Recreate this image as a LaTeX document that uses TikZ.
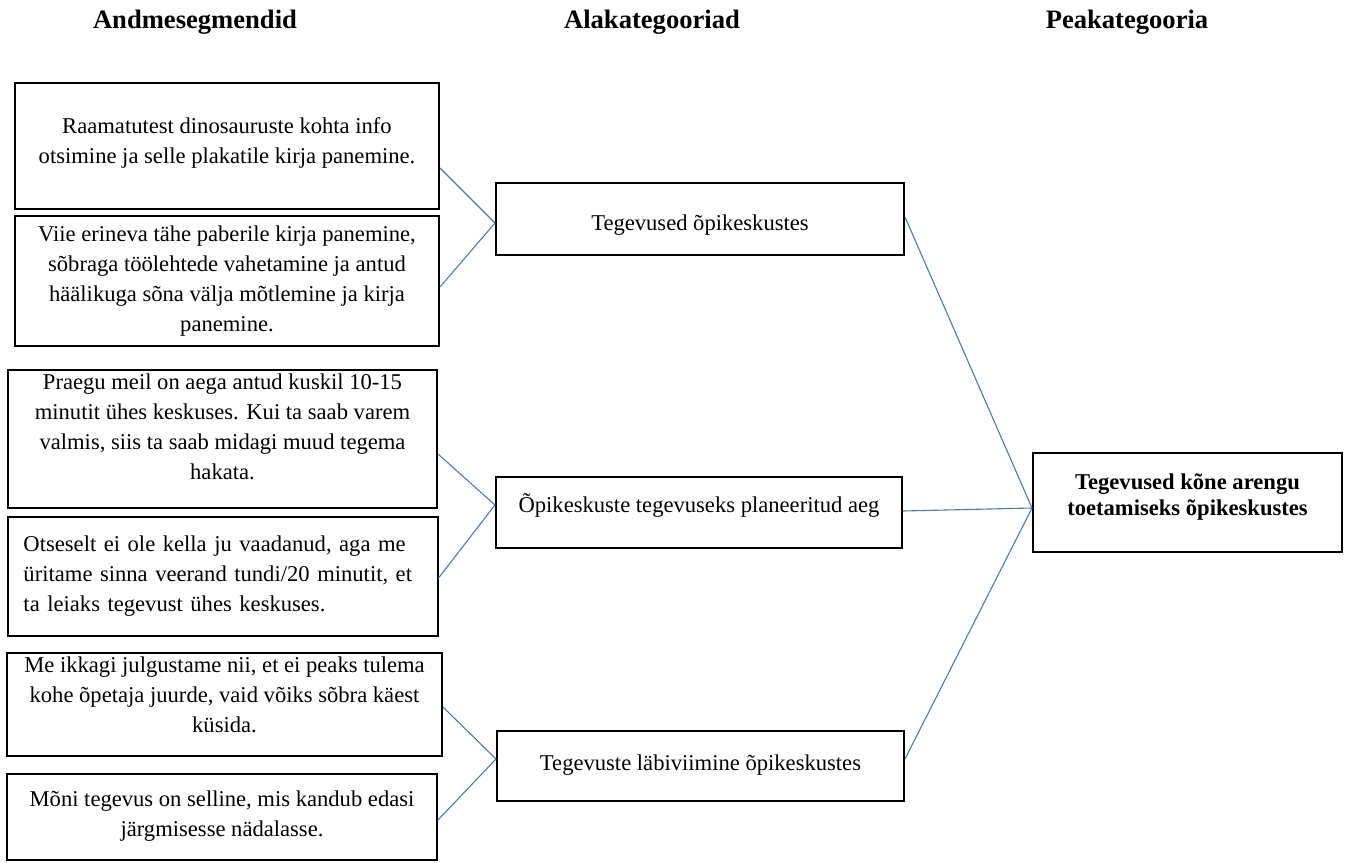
\documentclass[tikz,border=0pt]{standalone}
\usepackage{fontspec}
\setmainfont{Liberation Serif}
\definecolor{linkblue}{RGB}{74,126,167}

\begin{document}
\begin{tikzpicture}[x=.5pt,y=-.5pt,font=\fontsize{11.3}{15}\selectfont,
	seg/.style={draw,line width=1pt,align=center,inner sep=0pt},
	head/.style={font=\fontsize{13.3}{16}\selectfont\bfseries},
	link/.style={linkblue,line width=.55pt}]
	% fix page size
	\useasboundingbox (0,0) rectangle (1346,863);
	
	% draw headings
	\node[head] (hseg) at (195,22) {Andmesegmendid};
	\node[head] (hsub) at (652,22) {Alakategooriad};
	\node[head] (hmain) at (1127,22) {Peakategooria};
	
	% draw data segments
	\node[seg,minimum width=212pt,minimum height=63pt] (a1) at (227,146) {Raamatutest dinosauruste kohta info\\otsimine ja selle plakatile kirja panemine.\\[-9.5pt]};
	\node[seg,minimum width=212pt,minimum height=65pt] (a2) at (227,281) {Viie erineva tähe paberile kirja panemine,\\sõbraga töölehtede vahetamine ja antud\\häälikuga sõna välja mõtlemine ja kirja\\panemine.};
	\node[seg,minimum width=214.5pt,minimum height=69pt] (b1) at (222.5,439) {Praegu meil on aega antud kuskil 10-15\\minutit ühes keskuses. Kui ta saab varem\\valmis, siis ta saab midagi muud tegema\\hakata.\\[-2.5pt]};
	\node[seg,align=left,text width=199pt,inner xsep=8pt,minimum height=59.5pt] (b2) at (222.5,576.5) {Otseselt ei ole kella ju vaadanud, aga me\\üritame sinna veerand tundi/20 minutit, et\\ta leiaks tegevust ühes keskuses.};
	\node[seg,minimum width=217.5pt,minimum height=51.5pt] (c1) at (224.5,704.5) {Me ikkagi julgustame nii, et ei peaks tulema\\kohe õpetaja juurde, vaid võiks sõbra käest\\küsida.\\[-5.5pt]};
	\node[seg,minimum width=215pt,minimum height=43pt] (c2) at (222,816.5) {Mõni tegevus on selline, mis kandub edasi\\järgmisesse nädalasse.};
	
	% draw subcategories
	\node[seg,minimum width=204pt,minimum height=36pt,text height=14pt,text depth=2.5pt] (m1) at (700,219) {Tegevused õpikeskustes};
	\node[seg,minimum width=203pt,minimum height=35.5pt,text height=2.5pt,text depth=2.5pt] (m2) at (699,512.5) {Õpikeskuste tegevuseks planeeritud aeg};
	\node[seg,minimum width=203.5pt,minimum height=35pt,text height=7pt,text depth=2.5pt] (m3) at (700.5,766) {Tegevuste läbiviimine õpikeskustes};
	
	% draw main category
	\node[seg,font=\fontsize{11.3}{13}\selectfont\bfseries,minimum width=154.5pt,minimum height=49.5pt] (r) at (1187.5,502.5) {Tegevused kõne arengu\\toetamiseks õpikeskustes\\[-5.5pt]};
	
	% draw links
	\draw[link] ([yshift=-11pt]a1.east) -- ([yshift=-2pt]m1.west);
	\draw[link] ([yshift=-3pt]a2.east) -- ([yshift=-2pt]m1.west);
	\draw[link] ([yshift=-7.5pt]b1.east) -- ([yshift=3.75pt]m2.west);
	\draw[link] ([yshift=-.75pt]b2.east) -- ([yshift=3.75pt]m2.west);
	\draw[link] ([yshift=-1.25pt]c1.east) -- ([yshift=3.5pt]m3.west);
	\draw[link] ([yshift=-1.75pt]c2.east) -- ([yshift=3.5pt]m3.west);
	\draw[link] ([yshift=1pt]m1.east) -- ([yshift=-2.75pt]r.west);
	\draw[link] ([yshift=.75pt]m2.east) -- ([yshift=-2.75pt]r.west);
	\draw[link] ([yshift=3.5pt]m3.east) -- ([yshift=-2.75pt]r.west);
\end{tikzpicture}
\end{document}
